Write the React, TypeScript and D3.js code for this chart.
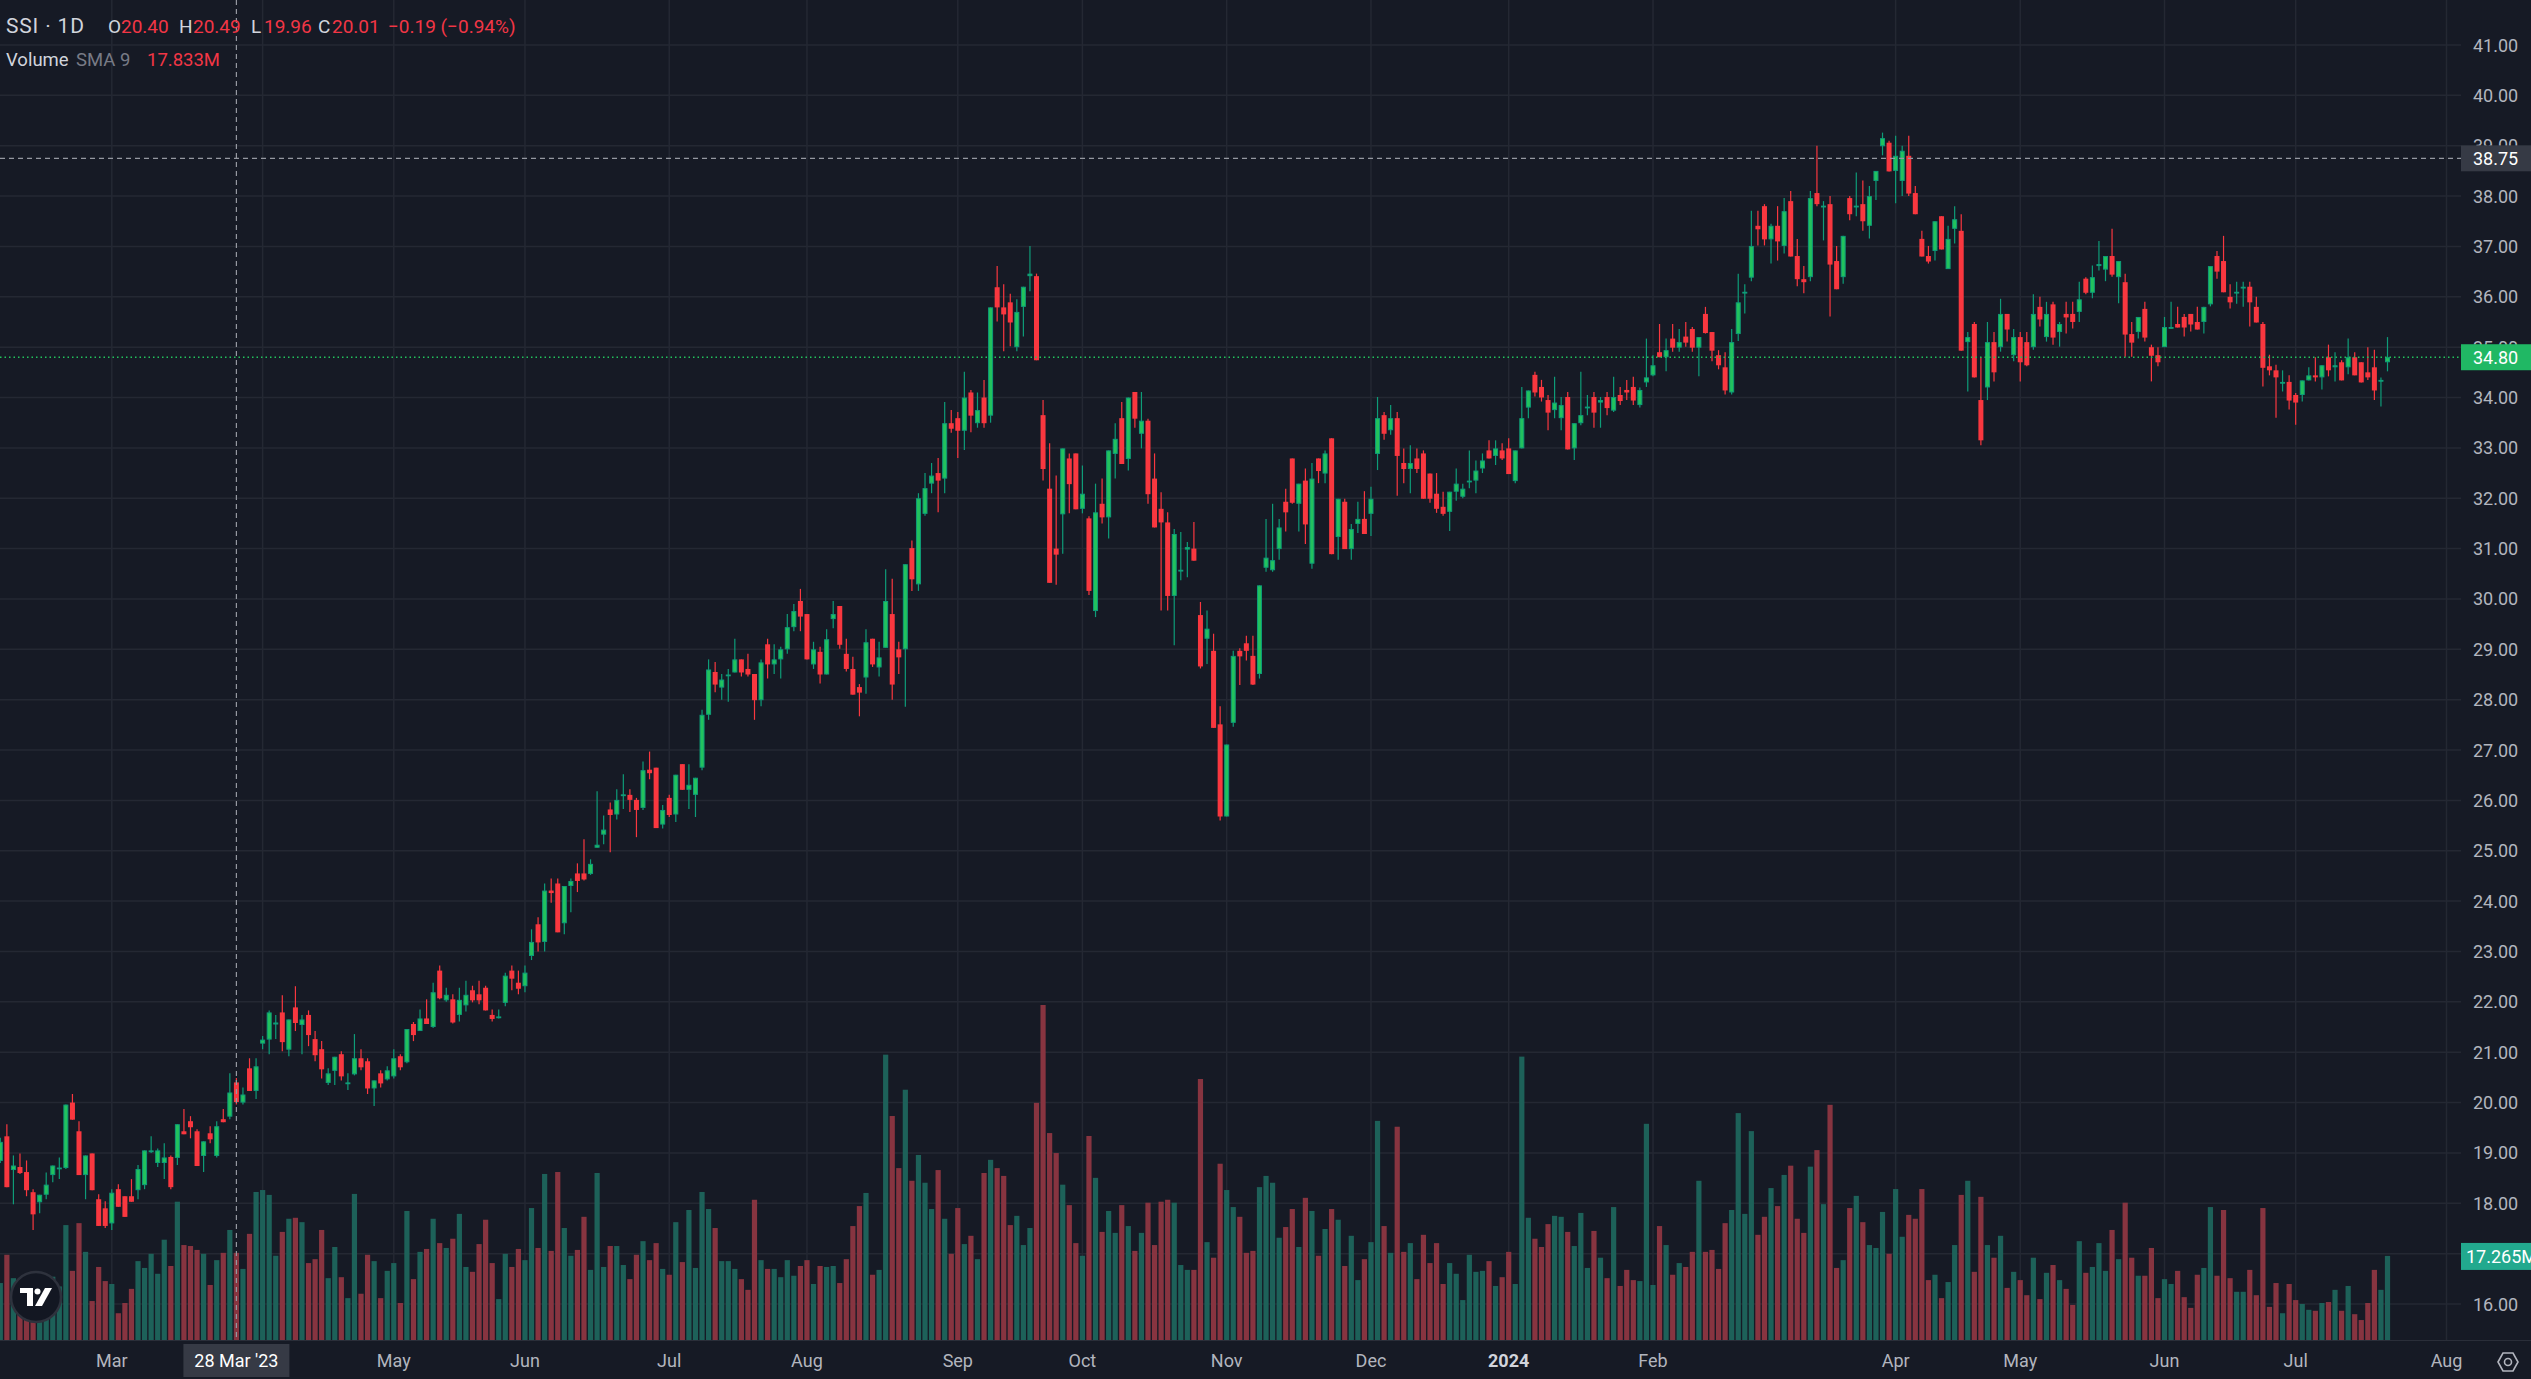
import React from "react";
import * as d3 from "d3";

// ---------- DATA ----------
const START_DATE = "2023-02-06";
const HOLIDAYS = [
  "2023-05-01", "2023-05-02", "2023-05-03", "2023-09-01", "2023-09-04",
  "2024-01-01", "2024-02-08", "2024-02-09", "2024-02-12", "2024-02-13", "2024-02-14",
  "2024-04-18", "2024-04-29", "2024-04-30", "2024-05-01",
];

const OPEN = [
  18.84,19.33,18.66,18.72,18.62,18.22,18.02,18.17,18.56,18.69,
  18.70,20.00,19.43,18.56,18.99,18.08,17.90,17.60,18.28,18.14,
  18.14,18.26,18.36,19.04,18.80,18.80,18.92,18.90,19.43,19.63,
  19.43,18.94,19.39,18.94,19.67,19.72,20.40,20.00,20.68,20.23,
  21.17,21.25,21.55,21.79,21.05,21.89,21.54,21.74,21.26,21.06,
  20.39,20.63,20.96,20.39,20.56,20.88,20.82,20.28,20.58,20.46,
  20.52,20.92,20.80,21.56,21.42,21.67,21.50,22.62,22.03,22.05,
  21.74,21.93,22.23,22.15,22.28,21.74,21.70,21.98,22.62,22.38,
  22.31,22.91,23.54,23.19,24.21,24.35,23.56,24.30,24.55,24.55,
  24.54,25.06,25.32,25.82,25.72,26.10,26.11,26.01,25.85,26.61,
  26.65,25.52,26.05,25.72,26.72,26.21,26.11,26.65,27.70,28.55,
  28.24,28.49,28.54,28.80,28.61,28.51,27.99,29.10,28.70,28.80,
  29.00,29.44,29.96,29.70,28.70,28.95,28.50,29.60,29.86,28.91,
  28.61,28.25,28.44,29.21,28.64,29.03,29.70,29.00,29.00,31.01,
  30.29,31.69,32.29,32.50,32.39,33.49,33.59,33.34,34.10,33.49,
  34.00,33.64,36.19,35.79,35.89,35.00,35.80,36.41,36.41,33.65,
  32.19,31.00,31.68,32.79,32.89,31.79,31.60,29.76,31.89,31.62,
  32.88,33.59,32.78,34.11,33.28,33.54,32.39,31.79,31.52,30.06,
  30.56,30.98,31.00,29.68,29.21,28.97,27.51,25.68,27.54,28.97,
  29.12,28.87,28.51,30.62,30.57,30.99,31.93,32.79,31.89,32.35,
  30.70,32.79,32.49,33.19,31.23,31.93,30.99,31.49,31.59,31.69,
  32.88,33.65,33.35,33.59,32.70,32.58,32.79,32.89,32.49,32.09,
  31.83,31.73,32.13,32.03,32.34,32.35,32.59,32.95,32.84,32.95,
  32.99,32.34,32.99,33.80,34.45,34.21,33.95,33.75,33.59,34.01,
  32.99,33.49,33.80,34.01,33.90,34.01,33.74,34.05,34.15,34.21,
  33.85,34.30,34.44,34.90,34.80,35.17,34.99,35.21,35.36,34.99,
  35.66,35.30,34.84,34.60,34.10,35.26,36.08,36.38,37.41,37.80,
  37.14,37.41,37.01,37.90,36.81,36.35,36.39,38.06,37.79,37.84,
  36.71,36.39,37.96,37.79,37.84,37.41,38.30,38.99,39.06,38.50,
  38.30,38.80,38.06,37.15,36.81,36.91,37.60,36.55,37.35,37.31,
  35.10,35.46,33.95,34.20,35.10,35.00,35.66,34.84,35.20,35.10,
  35.00,35.80,35.20,35.85,35.30,35.66,35.66,35.70,36.36,36.08,
  36.61,36.54,36.81,36.39,36.29,35.26,35.30,35.76,35.00,34.84,
  35.00,35.39,35.46,35.60,35.66,35.50,35.50,35.85,36.81,36.71,
  36.00,36.09,36.19,36.20,35.80,35.46,34.62,34.54,34.30,34.31,
  34.05,34.05,34.34,34.44,34.40,34.80,34.60,34.70,34.60,34.80,
  34.70,34.50,34.60,34.34,34.70,
];

const HIGH = [
  19.30,19.57,18.95,18.99,18.85,18.28,18.17,18.61,18.75,18.91,
  19.96,20.17,19.63,18.95,18.99,18.18,18.04,18.28,18.38,18.14,
  18.48,18.76,19.05,19.33,19.09,19.19,18.95,19.57,19.87,19.73,
  19.47,19.23,19.53,19.63,19.87,20.58,20.49,20.30,20.88,20.88,
  21.32,21.83,21.74,22.13,21.65,22.31,21.74,21.83,21.42,21.22,
  20.68,20.91,21.02,20.58,21.36,21.06,20.88,20.44,20.64,20.72,
  21.06,20.96,21.46,21.60,21.85,22.05,22.38,22.72,22.28,22.15,
  22.28,22.42,22.32,22.42,22.32,21.85,21.85,22.58,22.72,22.62,
  22.72,23.44,23.68,24.35,24.45,24.45,24.30,24.45,24.75,25.23,
  24.83,26.18,25.70,25.96,26.22,26.52,26.22,26.05,26.77,26.97,
  26.65,25.91,26.11,26.51,26.72,26.72,26.45,27.80,28.80,28.75,
  28.51,28.61,29.21,28.80,28.91,28.51,28.80,29.21,29.10,29.05,
  29.70,29.90,30.20,29.70,29.15,29.05,29.40,29.96,29.86,29.21,
  28.85,28.31,29.40,29.21,29.15,30.59,30.40,29.15,30.69,31.16,
  32.10,32.50,32.70,32.80,33.91,33.75,33.71,34.51,34.15,34.10,
  34.35,35.79,36.61,36.25,36.06,35.95,36.20,37.01,36.46,33.95,
  33.09,32.45,32.99,32.89,32.89,32.65,31.64,32.29,32.39,32.95,
  33.49,33.91,34.00,34.11,34.11,33.58,32.89,32.12,31.72,31.39,
  31.33,31.13,31.53,29.94,29.77,29.31,27.87,27.11,28.97,29.02,
  29.27,29.27,30.27,31.59,31.89,31.59,32.19,32.79,32.29,32.59,
  32.70,32.79,32.95,33.19,31.99,31.99,31.49,31.93,32.14,32.23,
  34.01,33.71,33.85,33.71,32.99,33.05,32.99,32.95,32.49,32.50,
  32.13,32.13,32.59,32.29,32.95,32.75,32.89,33.15,33.15,33.09,
  33.19,32.95,34.21,34.14,34.51,34.35,34.05,34.41,34.01,34.11,
  33.49,34.51,34.05,34.11,34.01,34.11,34.41,34.21,34.35,34.41,
  34.20,35.17,34.84,35.46,35.17,35.46,35.36,35.50,35.40,35.20,
  35.80,35.30,34.94,34.90,35.36,36.46,36.25,37.71,37.71,37.84,
  37.45,37.80,37.96,38.10,37.15,36.61,38.10,39.00,37.90,38.00,
  37.01,37.21,38.00,38.47,38.31,38.20,38.50,39.26,39.10,39.20,
  39.00,39.20,38.20,37.31,37.01,37.50,37.60,37.41,37.80,37.64,
  35.30,35.50,34.80,35.50,35.30,35.96,35.66,35.36,35.30,35.30,
  36.05,36.00,35.90,35.90,35.50,35.90,35.90,36.30,36.39,36.62,
  37.11,36.81,37.35,36.71,36.46,35.50,35.60,35.90,35.05,35.00,
  35.60,35.90,35.80,35.66,35.66,35.80,35.80,36.61,36.91,37.21,
  36.25,36.30,36.30,36.30,36.00,35.50,34.85,34.65,34.54,34.44,
  34.09,34.34,34.60,34.80,34.64,35.05,34.90,34.74,35.17,34.90,
  34.70,35.00,34.95,34.40,35.20,
];

const LOW = [
  18.80,18.32,17.98,18.58,18.14,17.47,17.80,18.08,18.42,18.48,
  18.68,19.66,18.56,18.08,18.26,17.55,17.51,17.47,17.93,17.73,
  18.03,18.08,18.28,19.00,18.72,18.48,18.28,18.76,19.37,19.29,
  18.74,18.62,19.19,18.91,19.61,19.67,19.96,19.96,20.23,20.07,
  21.06,20.96,21.26,21.02,20.92,21.42,20.96,21.12,20.82,20.48,
  20.35,20.35,20.44,20.25,20.54,20.64,20.17,19.93,20.30,20.44,
  20.48,20.64,20.78,21.22,21.42,21.56,21.48,22.05,22.00,21.57,
  21.61,21.81,21.99,21.95,21.83,21.61,21.67,21.91,22.23,22.15,
  22.19,22.83,23.00,23.00,23.97,23.38,23.34,23.78,24.18,24.41,
  24.52,25.06,25.13,24.97,25.62,25.83,25.77,25.27,25.81,26.42,
  25.45,25.44,25.67,25.57,26.21,25.83,25.67,26.60,27.60,28.15,
  28.00,27.96,28.54,28.46,28.46,27.60,27.87,28.42,28.51,28.42,
  28.91,29.36,29.36,28.80,28.61,28.32,28.50,29.42,29.01,28.56,
  28.10,27.67,28.12,28.65,28.46,29.03,28.00,28.51,27.86,30.16,
  30.16,31.65,32.10,31.72,32.10,33.30,32.80,32.96,33.31,33.40,
  33.40,33.50,35.51,34.92,35.02,34.92,35.21,36.11,34.74,32.35,
  30.32,30.28,30.90,31.70,31.78,31.70,30.08,29.64,31.50,31.20,
  32.39,32.68,32.55,33.40,32.99,31.89,31.42,29.77,29.77,29.08,
  30.37,30.43,30.76,28.62,28.71,27.44,25.60,25.68,27.46,28.29,
  28.78,28.29,28.42,30.54,30.54,30.78,31.34,31.89,31.34,31.09,
  30.60,32.30,32.30,30.89,30.78,30.99,30.78,31.31,31.29,31.25,
  32.56,33.16,33.26,32.05,32.30,32.10,32.50,31.99,31.91,31.71,
  31.65,31.35,31.95,32.00,32.20,32.10,32.50,32.79,32.66,32.76,
  32.48,32.30,32.99,33.59,34.02,33.92,33.35,33.59,33.35,32.97,
  32.76,33.45,33.65,33.40,33.40,33.65,33.71,33.85,33.95,33.85,
  33.80,34.21,34.42,34.80,34.52,34.91,34.91,35.01,34.91,34.42,
  35.27,34.72,34.56,34.06,34.06,35.12,35.67,36.31,37.02,37.02,
  36.66,36.72,36.86,36.80,36.21,36.07,36.31,37.80,37.12,35.61,
  36.15,36.26,37.52,37.60,37.31,37.16,37.92,38.81,38.49,37.86,
  38.00,38.00,37.64,36.80,36.66,36.72,36.94,36.55,37.06,34.93,
  34.12,34.40,33.05,33.95,34.32,34.91,35.11,34.72,34.32,34.62,
  34.95,35.41,35.11,35.05,35.01,35.27,35.37,35.50,36.05,35.97,
  36.52,36.31,36.40,35.87,34.81,34.81,35.17,35.11,34.32,34.62,
  35.00,35.37,35.39,35.21,35.31,35.35,35.27,35.81,36.36,36.09,
  35.77,35.86,35.80,35.41,35.49,34.22,34.44,33.60,34.12,33.76,
  33.46,33.92,34.34,34.32,34.16,34.42,34.32,34.34,34.46,34.44,
  34.30,34.35,33.95,33.82,34.52,
];

const CLOSE = [
  19.22,18.32,18.75,18.60,18.26,17.78,18.17,18.37,18.75,18.71,
  19.96,19.66,18.56,18.95,18.26,17.55,17.55,18.21,17.93,17.73,
  18.03,18.68,19.05,19.05,19.05,18.91,18.32,19.57,19.37,19.51,
  18.74,19.23,19.27,19.53,19.61,20.20,20.01,20.16,20.23,20.72,
  21.25,21.79,21.59,21.20,21.65,21.58,21.65,21.34,20.94,20.66,
  20.58,20.91,20.52,20.40,20.88,20.70,20.28,20.44,20.38,20.64,
  20.88,20.70,21.46,21.34,21.67,21.56,22.19,22.07,22.14,21.59,
  22.04,22.14,22.03,22.03,21.83,21.66,21.71,22.52,22.46,22.26,
  22.58,23.19,23.18,24.21,24.16,23.38,24.30,24.40,24.40,24.43,
  24.74,25.12,25.42,25.71,26.01,26.12,26.01,25.81,26.60,26.54,
  25.45,25.81,25.71,26.51,26.21,26.31,26.45,27.70,28.60,28.30,
  28.40,28.50,28.80,28.54,28.50,27.99,28.74,28.70,28.80,29.00,
  29.44,29.76,29.65,28.80,29.00,28.50,29.20,29.70,29.09,28.61,
  28.10,28.14,29.14,28.70,28.84,29.96,28.30,28.84,30.69,30.39,
  32.00,32.20,32.45,32.35,33.49,33.38,33.34,34.00,33.64,33.75,
  33.49,35.79,35.79,35.65,35.49,35.70,36.20,36.46,34.74,32.58,
  30.32,30.88,32.99,32.28,31.78,32.09,30.16,31.72,31.62,32.95,
  33.18,32.68,34.00,33.58,33.54,32.08,31.42,31.52,30.06,31.29,
  30.58,31.03,30.76,28.66,29.41,27.44,25.68,27.11,28.87,28.86,
  28.97,28.30,30.27,30.82,30.77,31.42,31.72,31.91,32.29,31.48,
  32.39,32.54,32.89,30.89,31.99,30.99,31.39,31.59,31.29,31.99,
  33.59,33.28,33.59,32.84,32.58,32.70,32.58,31.99,31.99,31.79,
  31.69,32.13,32.29,32.19,32.35,32.55,32.75,32.79,32.99,32.79,
  32.48,32.95,33.59,34.14,34.10,34.00,33.70,33.90,33.85,32.97,
  33.49,33.65,33.82,33.70,33.95,33.79,34.01,33.93,34.10,33.94,
  34.15,34.40,34.64,34.80,34.94,34.99,35.10,35.09,34.99,35.20,
  35.28,34.93,34.64,34.14,35.10,35.89,36.10,37.01,37.34,37.14,
  37.41,37.10,37.70,36.80,36.35,36.29,37.96,37.84,37.81,36.64,
  36.15,37.21,37.64,37.81,37.50,38.00,38.50,39.15,38.49,38.80,
  38.90,38.05,37.64,36.80,36.70,37.50,36.94,37.15,37.54,34.93,
  35.20,34.40,33.15,35.10,34.50,35.66,35.35,35.20,34.70,34.64,
  35.66,35.55,35.66,35.19,35.46,35.59,35.50,35.95,36.08,36.39,
  36.65,36.81,36.44,36.71,35.25,35.09,35.60,35.19,34.83,34.70,
  35.40,35.40,35.39,35.39,35.45,35.35,35.80,36.61,36.50,36.09,
  35.89,36.10,36.20,35.89,35.49,34.59,34.54,34.40,34.31,33.94,
  33.90,34.34,34.44,34.40,34.64,34.54,34.64,34.34,34.80,34.44,
  34.30,34.40,34.14,34.35,34.80,
];

// volume in millions of shares
const VOLUME = [
  11.7,17.5,12.7,12.0,13.0,14.0,11.0,12.0,13.0,11.0,
  23.6,14.2,24.0,18.1,8.0,15.0,12.1,11.5,5.5,7.6,
  10.5,16.2,14.8,17.7,13.6,20.6,15.2,28.4,19.5,19.3,
  18.5,17.7,11.3,16.4,17.9,22.6,17.9,14.6,21.8,30.4,
  30.8,29.8,17.3,22.2,24.9,25.1,24.2,15.8,16.6,22.6,
  12.7,19.1,12.9,8.6,30.0,9.5,17.5,16.2,8.6,14.2,
  15.8,7.6,26.5,12.5,18.1,18.7,24.9,19.9,18.9,20.8,
  25.9,15.0,14.0,19.7,24.7,15.8,8.4,17.7,15.0,18.7,
  16.4,27.1,18.9,34.1,18.3,34.5,23.0,17.3,18.5,25.3,
  14.4,34.3,15.0,19.3,19.3,15.4,12.5,17.5,20.3,16.4,
  19.9,14.6,13.4,24.2,16.0,26.7,14.8,30.4,26.9,23.0,
  16.2,16.2,14.6,12.5,10.3,28.8,16.4,14.6,14.6,12.9,
  16.4,13.2,15.2,16.4,11.5,15.2,15.0,15.2,11.7,16.6,
  23.4,27.5,30.2,13.4,14.4,58.6,46.0,35.3,51.4,32.7,
  38.0,32.3,26.9,34.9,24.9,17.7,27.1,19.7,21.4,16.6,
  34.3,37.0,35.3,33.7,23.6,25.5,19.5,23.0,48.7,68.8,
  42.5,38.4,31.9,27.7,19.9,17.3,41.9,33.3,22.2,26.5,
  22.0,27.7,23.4,18.3,22.0,28.2,19.5,28.4,28.8,28.2,
  15.4,14.4,14.4,53.6,20.1,16.9,36.2,30.8,27.3,25.3,
  17.9,18.3,31.4,33.7,32.3,21.0,23.2,26.9,19.1,29.2,
  26.5,17.3,22.8,26.9,24.7,15.2,21.4,12.3,16.6,20.1,
  45.0,23.4,17.9,43.8,18.1,19.9,12.5,21.6,15.8,19.9,
  11.5,15.8,13.6,8.2,17.5,14.0,14.2,16.2,11.1,12.9,
  18.1,11.5,58.2,25.1,20.8,19.1,23.8,25.5,25.3,22.2,
  19.3,26.1,14.8,22.4,16.9,12.7,27.3,11.1,14.4,12.3,
  12.1,44.4,11.3,23.4,19.5,13.4,15.8,15.0,18.1,32.7,
  18.1,18.5,14.6,24.0,26.7,46.6,25.9,42.9,21.6,25.3,
  31.2,27.5,33.9,35.8,24.9,22.0,35.6,39.0,27.9,48.3,
  14.8,16.4,27.1,29.6,24.2,19.5,18.9,26.3,17.7,31.0,
  21.2,25.7,24.9,31.0,12.3,13.4,8.6,11.9,19.5,29.8,
  32.7,14.0,29.4,19.5,16.9,21.4,10.7,14.0,12.3,9.2,
  16.9,8.4,13.8,15.4,12.3,10.5,7.2,20.3,13.8,15.0,
  19.9,14.2,22.6,16.6,28.2,16.9,13.2,13.2,18.9,8.6,
  12.5,11.5,14.2,8.8,6.6,13.4,14.8,27.3,13.2,26.7,
  12.7,9.9,9.9,14.4,9.2,27.1,6.8,11.7,5.5,11.5,
  8.2,7.4,6.2,6.0,7.6,7.8,10.3,6.0,11.1,5.3,
  4.1,7.6,14.4,10.3,17.265,
];

const PRICE_TICKS = [16,17,18,19,20,21,22,23,24,25,26,27,28,29,30,31,32,33,34,35,36,37,38,39,40,41];
const TIME_TICK_DATES = [
  "2023-03-01","2023-04-03","2023-05-04","2023-06-01","2023-07-03","2023-08-01",
  "2023-09-05","2023-10-02","2023-11-01","2023-12-01","2024-01-02","2024-02-01",
  "2024-04-01","2024-05-02","2024-06-03","2024-07-01","2024-08-01",
];
const TIME_TICK_LABELS = [
  "Mar","Apr","May","Jun","Jul","Aug","Sep","Oct","Nov","Dec","2024","Feb",
  "Apr","May","Jun","Jul","Aug",
];

const SYMBOL = "SSI · 1D";
const CROSS_DATE = "2023-03-28";
const CROSS_DATE_LABEL = "28 Mar '23";
const CROSS_PRICE = 38.75;
const LAST_PRICE = 34.8;
const LAST_VOLUME_LABEL = "17.265M";
const VOLUME_SMA_LABEL = "17.833M";
const CHANGE_LABEL = "−0.19 (−0.94%)";

// ---------- helpers ----------
function tradingDays(start: string, count: number): string[] {
  const out: string[] = [];
  let d = new Date(start + "T00:00:00Z");
  while (out.length < count) {
    const dow = d.getUTCDay();
    const s = d.toISOString().slice(0, 10);
    if (dow !== 0 && dow !== 6 && !HOLIDAYS.includes(s)) out.push(s);
    d = new Date(d.getTime() + 86400000);
  }
  return out;
}

const BG = "#161a25";
const GRID = "#242833";
const TEXT = "#b2b5be";
const UP_FILL = "#22c25d";
const UP_LINE = "#0e9c78";
const DOWN = "#f9373f";
const VOL_UP = "#1d6159";
const VOL_DOWN = "#873440";
const FONT = "Roboto, 'Noto Sans', sans-serif";

export default function App() {
  const W = 2531, H = 1379;
  const plotR = 2461, plotB = 1340;
  const days = tradingDays(START_DATE, 390);
  const n = CLOSE.length;

  const x = d3.scaleLinear().domain([0, 364]).range([0.3, 2387.5]);
  const y = d3.scaleLinear().domain([16, 41]).range([1304, 45]);
  const yv = d3.scaleLinear().domain([0, 68.8]).range([plotB, 1005]);

  const ticks = TIME_TICK_DATES.map((d, k) => ({ i: days.indexOf(d), label: TIME_TICK_LABELS[k] }));
  const crossI = days.indexOf(CROSS_DATE);
  const bodyW = 5;
  const volW = 5.2;
  const fmt = d3.format(".2f");

  // labels that sit completely under a crosshair/last-value tag are not drawn (hidden in the original)
  const volTagY = yv(VOLUME[n - 1]);
  const priceLabels = PRICE_TICKS.filter((p) => Math.abs(y(p) - volTagY) > 14);
  const timeLabels = ticks.filter((t) => Math.abs(x(t.i) - x(crossI)) > 70);

  return (
    <svg width={W} height={H} style={{ position: "fixed", left: 0, top: 0, display: "block" }} fontFamily={FONT}>
      <defs>
        <clipPath id="plot">
          <rect x={0} y={0} width={plotR} height={plotB} />
        </clipPath>
        <clipPath id="axisR">
          <rect x={2461} y={0} width={70} height={H} />
        </clipPath>
      </defs>
      <rect x={0} y={0} width={W} height={H} fill={BG} />

      {/* grid */}
      <g clipPath="url(#plot)">
        {PRICE_TICKS.map((p) => (
          <line key={"h" + p} x1={0} x2={plotR} y1={y(p)} y2={y(p)} stroke={GRID} strokeWidth={1.5} />
        ))}
        {ticks.map((t) => (
          <line key={"v" + t.i} x1={x(t.i)} x2={x(t.i)} y1={0} y2={plotB} stroke={GRID} strokeWidth={1.5} />
        ))}
      </g>

      {/* volume */}
      <g clipPath="url(#plot)">
        {VOLUME.map((v, i) => (
          <rect key={"vol" + i} x={x(i) - volW / 2} y={yv(v)} width={volW} height={plotB - yv(v)}
            fill={CLOSE[i] >= OPEN[i] ? VOL_UP : VOL_DOWN} />
        ))}
      </g>

      {/* candles */}
      <g clipPath="url(#plot)">
        {d3.range(n).map((i) => {
          const up = CLOSE[i] >= OPEN[i];
          const top = y(Math.max(OPEN[i], CLOSE[i]));
          const bot = y(Math.min(OPEN[i], CLOSE[i]));
          const h = Math.max(1.5, bot - top);
          const cx = x(i);
          return (
            <g key={"c" + i}>
              <line x1={cx} x2={cx} y1={y(HIGH[i])} y2={y(LOW[i])} stroke={up ? UP_LINE : DOWN} strokeWidth={1.2} />
              {up ? (
                <rect x={cx - bodyW / 2 + 0.5} y={top + 0.5} width={bodyW - 1} height={Math.max(0.8, h - 1)}
                  fill={UP_FILL} stroke={UP_LINE} strokeWidth={1} />
              ) : (
                <rect x={cx - bodyW / 2} y={top} width={bodyW} height={h} fill={DOWN} />
              )}
            </g>
          );
        })}
      </g>

      {/* last price line */}
      <line x1={0} x2={plotR} y1={y(LAST_PRICE)} y2={y(LAST_PRICE)} stroke="#22c25d" strokeWidth={1.3} strokeDasharray="1.5 3" />

      {/* crosshair */}
      <line x1={x(crossI)} x2={x(crossI)} y1={0} y2={plotB} stroke="#9598a1" strokeWidth={1.2} strokeDasharray="5 4" />
      <line x1={0} x2={plotR} y1={y(CROSS_PRICE)} y2={y(CROSS_PRICE)} stroke="#9598a1" strokeWidth={1.2} strokeDasharray="5 4" />

      {/* bottom separator */}
      <line x1={0} x2={W} y1={plotB + 0.5} y2={plotB + 0.5} stroke="#2a2e39" strokeWidth={1} />

      {/* price axis labels */}
      {priceLabels.map((p) => (
        <text key={"pl" + p} x={2473} y={y(p) + 6.5} fill={TEXT} fontSize={18}>{fmt(p)}</text>
      ))}

      {/* crosshair price label */}
      <rect x={2461} y={y(CROSS_PRICE) - 13} width={70} height={26} fill="#363a45" />
      <text x={2473} y={y(CROSS_PRICE) + 6.5} fill="#ffffff" fontSize={18}>{fmt(CROSS_PRICE)}</text>

      {/* last price label */}
      <rect x={2461} y={y(LAST_PRICE) - 13} width={70} height={26} fill="#20b864" />
      <text x={2473} y={y(LAST_PRICE) + 6.5} fill="#ffffff" fontSize={18}>{fmt(LAST_PRICE)}</text>

      {/* last volume label (runs past the window edge, as in the original) */}
      <g clipPath="url(#axisR)">
        <rect x={2461} y={volTagY - 13} width={70} height={27} fill="#22a98e" />
        <text x={2466} y={volTagY + 7} fill="#ffffff" fontSize={18}>{LAST_VOLUME_LABEL}</text>
      </g>

      {/* time axis labels */}
      {timeLabels.map((t) => (
        <text key={"tl" + t.i} x={x(t.i)} y={1367} fill={t.label === "2024" ? "#d1d4dc" : TEXT}
          fontSize={18} fontWeight={t.label === "2024" ? 700 : 400} textAnchor="middle">{t.label}</text>
      ))}

      {/* crosshair time label */}
      <rect x={x(crossI) - 53} y={1344} width={106} height={33} fill="#363a45" />
      <text x={x(crossI)} y={1367} fill="#ffffff" fontSize={18} textAnchor="middle">{CROSS_DATE_LABEL}</text>

      {/* header */}
      <text x={6} y={33} fill="#d1d4dc" fontSize={21} textLength={78} lengthAdjust="spacing">{SYMBOL}</text>
      <g fontSize={19}>
        <text x={108} y={33} fill="#d1d4dc">O</text>
        <text x={121} y={33} fill="#f23645">{fmt(OPEN[crossI])}</text>
        <text x={179} y={33} fill="#d1d4dc">H</text>
        <text x={193} y={33} fill="#f23645">{fmt(HIGH[crossI])}</text>
        <text x={251} y={33} fill="#d1d4dc">L</text>
        <text x={264} y={33} fill="#f23645">{fmt(LOW[crossI])}</text>
        <text x={318} y={33} fill="#d1d4dc">C</text>
        <text x={332} y={33} fill="#f23645">{fmt(CLOSE[crossI])}</text>
        <text x={388} y={33} fill="#f23645">{CHANGE_LABEL}</text>
      </g>
      <g fontSize={18.5}>
        <text x={6} y={66} fill="#d1d4dc">Volume</text>
        <text x={76} y={66} fill="#787b86">SMA 9</text>
        <text x={147} y={66} fill="#f23645">{VOLUME_SMA_LABEL}</text>
      </g>

      {/* TradingView logo */}
      <g transform="translate(36,1297)">
        <circle r={25} fill="#131722" stroke="#2e323d" strokeWidth={2.5} />
        <path d="M-16,-9 H-3 V9 H-9 V-4 H-16 Z" fill="#ffffff" />
        <circle cx={1.5} cy={-5.5} r={3} fill="#ffffff" />
        <path d="M-1,9 L6,9 L16,-9 L9,-9 Z" fill="#ffffff" />
      </g>

      {/* settings icon */}
      <g transform="translate(2508,1362)" fill="none" stroke="#b2b5be" strokeWidth={1.6}>
        <path d="M-10,0 L-5,-9 L5,-9 L10,0 L5,9 L-5,9 Z" />
        <circle r={3.5} />
      </g>
    </svg>
  );
}
